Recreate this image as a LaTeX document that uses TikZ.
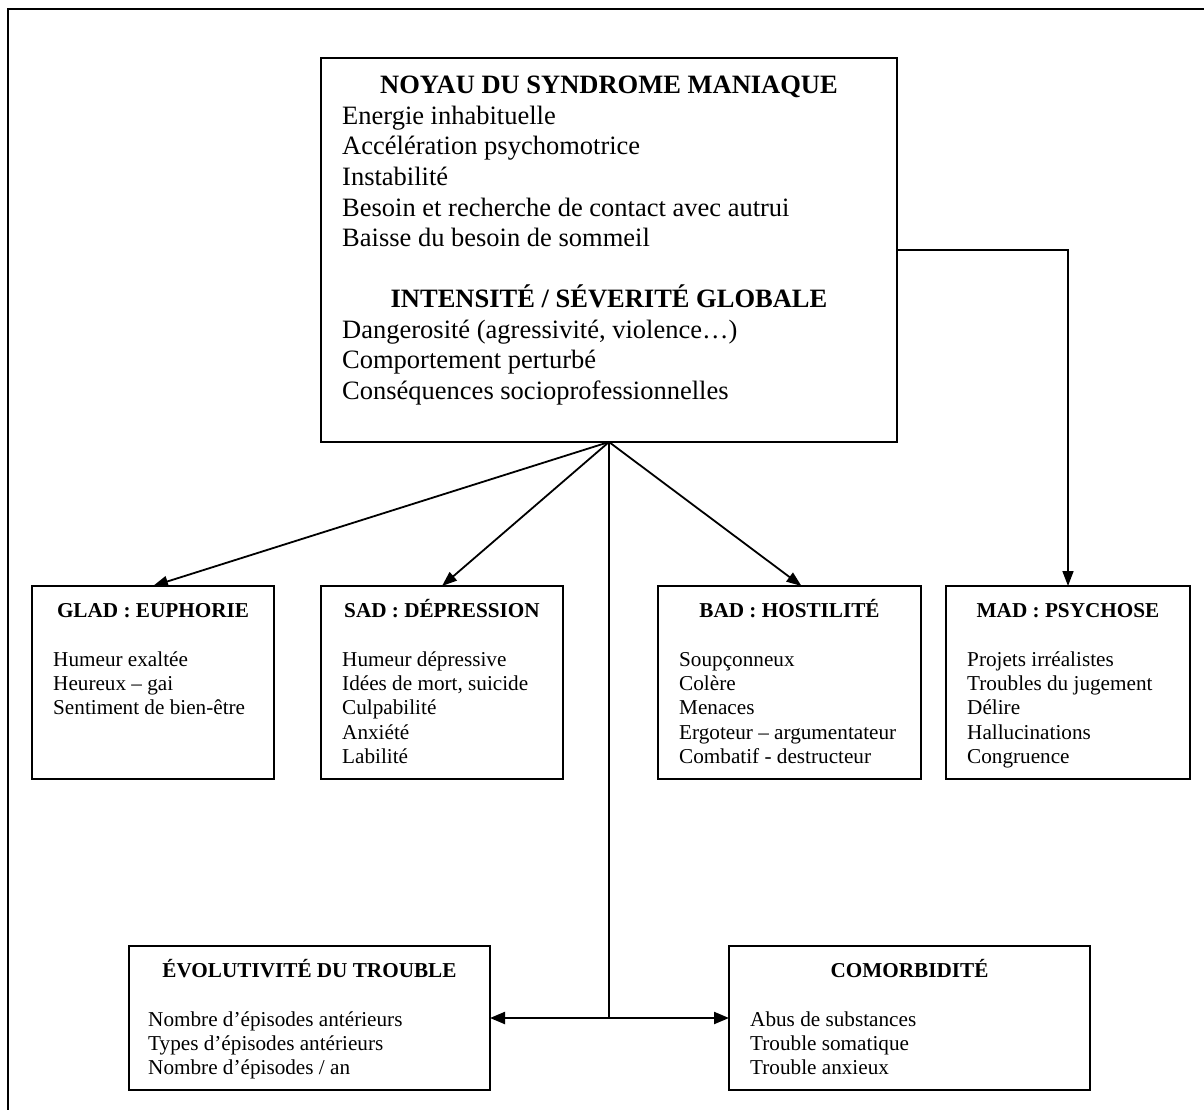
\documentclass[tikz,border=0pt]{standalone}
\usepackage{fontspec}
\setmainfont{Liberation Serif}
\usetikzlibrary{arrows.meta}
\begin{document}
\begin{tikzpicture}[x=1pt,y=-1pt,
  box/.style={draw,line width=1.5pt,rectangle,inner sep=0pt,outer sep=0pt},
  big/.style={font=\fontsize{26.5}{30}\selectfont},
  small/.style={font=\fontsize{21.2}{24}\selectfont},
  ln/.style={anchor=base west,inner sep=0pt},
  ttl/.style={anchor=base,inner sep=0pt},
  arr/.style={-{Triangle[length=15pt,width=11pt]},line width=1.8pt}]

\useasboundingbox (0,0) rectangle (1204,1110);
\fill[white] (0,0) rectangle (1204,1110);
\coordinate (fb) at (8,1112);
\coordinate (ftl) at (8,9);
\coordinate (ftr) at (1206,9);
\draw[line width=2pt] (fb) -- (ftl) -- (ftr);

% boxes
\node[box,minimum width=576pt,minimum height=384pt] (main) at (609,250) {};
\node[box,minimum width=242pt,minimum height=193pt] (glad) at (153,682.5) {};
\node[box,minimum width=242pt,minimum height=193pt] (sad) at (442,682.5) {};
\node[box,minimum width=263pt,minimum height=193pt] (bad) at (789.5,682.5) {};
\node[box,minimum width=244pt,minimum height=193pt] (mad) at (1068,682.5) {};
\node[box,minimum width=361pt,minimum height=144pt] (evo) at (309.5,1018) {};
\node[box,minimum width=361pt,minimum height=144pt] (como) at (909.5,1018) {};

% main box text
\node[ttl,big] (t1) at (609,94) {\bfseries NOYAU DU SYNDROME MANIAQUE};
\foreach \t [count=\i from 0] in {Energie inhabituelle, Accélération psychomotrice, Instabilité, Besoin et recherche de contact avec autrui, Baisse du besoin de sommeil}
  \node[ln,big] (m\i) at (342,{124.5+30.5*\i}) {\t};
\node[ttl,big] (t2) at (609,307.5) {\bfseries INTENSITÉ / SÉVERITÉ GLOBALE};
\foreach \t [count=\i from 0] in {{Dangerosité (agressivité, violence…)}, Comportement perturbé, Conséquences socioprofessionnelles}
  \node[ln,big] (n\i) at (342,{338+30.5*\i}) {\t};

% GLAD
\node[ttl,small] (tg) at (153,617) {\bfseries GLAD : EUPHORIE};
\foreach \t [count=\i from 0] in {Humeur exaltée, Heureux – gai, Sentiment de bien-être}
  \node[ln,small] (g\i) at (53,{666+24.4*\i}) {\t};

% SAD
\node[ttl,small] (ts) at (442,617) {\bfseries SAD : DÉPRESSION};
\foreach \t [count=\i from 0] in {Humeur dépressive, {Idées de mort, suicide}, Culpabilité, Anxiété, Labilité}
  \node[ln,small] (s\i) at (342,{666+24.4*\i}) {\t};

% BAD
\node[ttl,small] (tb) at (789.5,617) {\bfseries BAD : HOSTILITÉ};
\foreach \t [count=\i from 0] in {Soupçonneux, Colère, Menaces, Ergoteur – argumentateur, Combatif - destructeur}
  \node[ln,small] (b\i) at (679,{666+24.4*\i}) {\t};

% MAD
\node[ttl,small] (tm) at (1068,617) {\bfseries MAD : PSYCHOSE};
\foreach \t [count=\i from 0] in {Projets irréalistes, Troubles du jugement, Délire, Hallucinations, Congruence}
  \node[ln,small] (p\i) at (967,{666+24.4*\i}) {\t};

% EVO
\node[ttl,small] (te) at (309.5,977) {\bfseries ÉVOLUTIVITÉ DU TROUBLE};
\foreach \t [count=\i from 0] in {Nombre d’épisodes antérieurs, Types d’épisodes antérieurs, Nombre d’épisodes / an}
  \node[ln,small] (e\i) at (148,{1026+24.4*\i}) {\t};

% COMORBIDITE
\node[ttl,small] (tc) at (909.5,977) {\bfseries COMORBIDITÉ};
\foreach \t [count=\i from 0] in {Abus de substances, Trouble somatique, Trouble anxieux}
  \node[ln,small] (c\i) at (750,{1026+24.4*\i}) {\t};

% connectors
\draw[arr] (main.south) -- (glad.north);
\draw[arr] (main.south) -- (sad.north);
\draw[arr] (main.south) -- ([xshift=12pt]bad.north);
\draw[arr,line width=1.6pt] (main.east) -| (mad.north);
\coordinate (j) at (main.south |- evo.east);
\draw[line width=1.3pt] (main.south) -- (j);
\draw[{Triangle[length=15pt,width=12pt]}-{Triangle[length=15pt,width=12pt]},line width=2.2pt] (evo.east) -- (como.west);
\end{tikzpicture}
\end{document}
